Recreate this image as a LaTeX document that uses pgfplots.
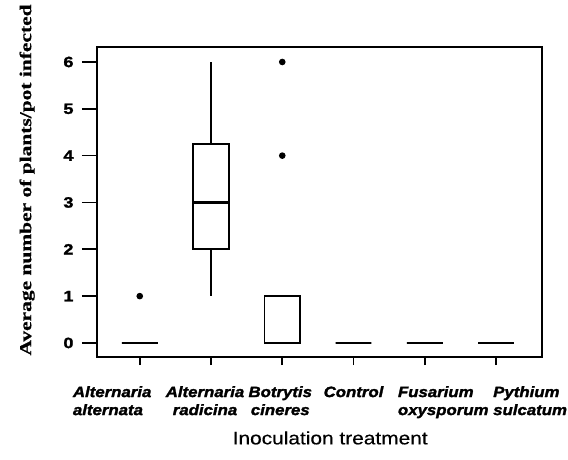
\documentclass[border=0pt]{standalone}
\usepackage{fontspec}
\setmainfont{Liberation Serif}
\setsansfont{Liberation Sans}
\newfontfamily\catfont[BoldItalicFeatures={FakeStretch=1.12, FakeBold=1.8}]{Liberation Sans}
\newfontfamily\xlabfont[FakeStretch=1.16, FakeBold=0.4]{Liberation Sans}
\newfontfamily\ylabfont[BoldFeatures={FakeStretch=1.3, FakeBold=0.8}]{Liberation Serif}
\newfontfamily\tickfont[BoldFeatures={FakeStretch=1.2, FakeBold=1.8}]{Liberation Sans}
\usepackage{pgfplots}
\usepgfplotslibrary{statistics}
\pgfplotsset{compat=1.18}
\tikzset{catlab/.style={font=\catfont\bfseries\itshape\fontsize{15}{18}\selectfont, inner sep=0pt, yshift=-29pt}}
\begin{document}
\begin{tikzpicture}
\begin{axis}[
  at={(0,0)}, anchor=south west,
  scale only axis, width=445pt, height=310pt,
  xmin=0.4, xmax=6.645, ymin=-0.3, ymax=6.32,
  clip mode=individual,
  axis line style={line width=1.7pt},
  tick align=outside,
  major tick length=15pt,
  ytick={0,1,2,3,4,5,6},
  ytick pos=left,
  y tick style={line width=1.7pt, black},
  xtick={1,2,3,4,5,6},
  xticklabels={},
  xtick pos=bottom,
  x tick style={draw=none},
  /pgf/number format/assume math mode=true,
  yticklabel style={font=\tickfont\bfseries\fontsize{15}{16}\selectfont, xshift=-5pt},
  xlabel={Inoculation treatment},
  xlabel style={font=\xlabfont\fontsize{18}{20}\selectfont, at={(axis description cs:0.524,-0.261)}, anchor=center},
  ylabel={Average number of plants/pot infected},
  ylabel style={font=\ylabfont\bfseries\fontsize{16.5}{18}\selectfont, at={(axis description cs:-0.157,0.571)}, anchor=center},
  boxplot/draw direction=y,
  boxplot/box extend=0.5,
  boxplot/whisker extend=0,
  boxplot/every median/.style={black, line width=2.2pt},
]
% Alternaria alternata
\addplot[black, line width=1.7pt, mark=*, mark size=2.4pt, mark options={fill=black},
  boxplot prepared={draw position=1, lower whisker=0, lower quartile=0, median=0, upper quartile=0, upper whisker=0}] coordinates {(0,1)};
% Alternaria radicina
\addplot[black, line width=1.7pt, mark=*, mark size=2.4pt, mark options={fill=black},
  boxplot prepared={draw position=2, lower whisker=1, lower quartile=2, median=3, upper quartile=4.25, upper whisker=6}] coordinates {};
% Botrytis cineres
\addplot[black, line width=1.7pt, mark=*, mark size=2.4pt, mark options={fill=black},
  boxplot prepared={draw position=3, lower whisker=0, lower quartile=0, median=0, upper quartile=1, upper whisker=1}] coordinates {(0,4) (0,6)};
% Control
\addplot[black, line width=1.7pt, mark=*, mark size=2.4pt, mark options={fill=black},
  boxplot prepared={draw position=4, lower whisker=0, lower quartile=0, median=0, upper quartile=0, upper whisker=0}] coordinates {};
% Fusarium oxysporum
\addplot[black, line width=1.7pt, mark=*, mark size=2.4pt, mark options={fill=black},
  boxplot prepared={draw position=5, lower whisker=0, lower quartile=0, median=0, upper quartile=0, upper whisker=0}] coordinates {};
% Pythium sulcatum
\addplot[black, line width=1.7pt, mark=*, mark size=2.4pt, mark options={fill=black},
  boxplot prepared={draw position=6, lower whisker=0, lower quartile=0, median=0, upper quartile=0, upper whisker=0}] coordinates {};
% category labels (placed as in the reference)
\node[catlab, anchor=north west, align=left, xshift=-67pt] at (axis cs:1,-0.3) {Alternaria\\alternata};
\node[catlab, anchor=north, align=center, xshift=-6pt] at (axis cs:2,-0.3) {Alternaria\\radicina};
\node[catlab, anchor=north, align=center, xshift=-2pt] at (axis cs:3,-0.3) {Botrytis\\cineres};
\node[catlab, anchor=north, align=center] at (axis cs:4,-0.3) {Control};
\node[catlab, anchor=north west, align=left, xshift=-27pt] at (axis cs:5,-0.3) {Fusarium\\oxysporum};
\node[catlab, anchor=north west, align=left, xshift=-3pt] at (axis cs:6,-0.3) {Pythium\\sulcatum};
\end{axis}
\begin{axis}[
  at={(0,0)}, anchor=south west,
  scale only axis, width=445pt, height=310pt,
  xmin=0.4, xmax=6.645, ymin=-0.3, ymax=6.32,
  axis line style={draw=none},
  tick align=outside,
  major tick length=8pt,
  ytick=\empty,
  xtick={1,2,3,4,5,6},
  xticklabels={},
  xtick pos=bottom,
  x tick style={line width=1.7pt, black},
]
\addplot[draw=none] coordinates {(1,0)};
\end{axis}
\pgfresetboundingbox
\path (-97pt,-102pt) rectangle (471pt,357pt);
\end{tikzpicture}
\end{document}
